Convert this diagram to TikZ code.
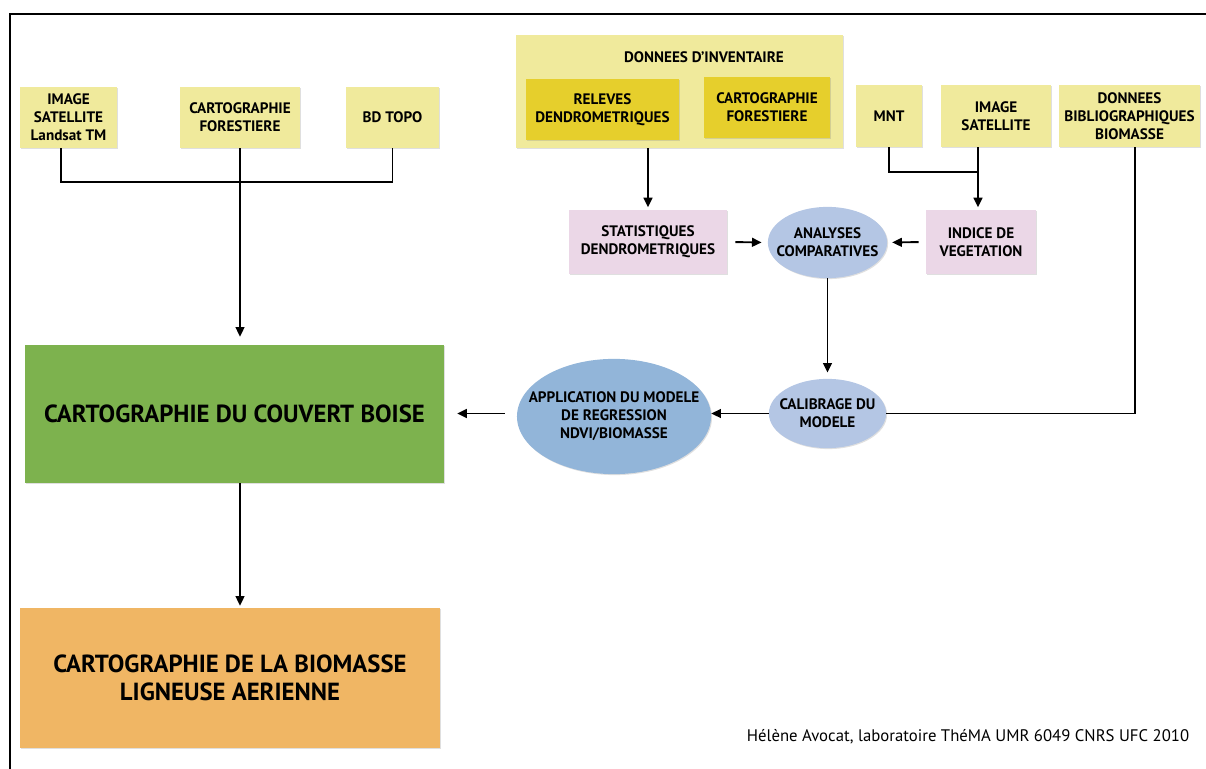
\documentclass[tikz,border=0pt]{standalone}
\usepackage{fontspec}
\setmainfont{PT Sans}
\usetikzlibrary{shapes.geometric,arrows.meta,shadows}
\definecolor{srcyellow}{HTML}{F0EA9C}
\definecolor{darkyellow}{HTML}{E6CF2C}
\definecolor{procpink}{HTML}{EBD7E7}
\definecolor{ovalblue}{HTML}{B4C6E4}
\definecolor{appliblue}{HTML}{92B5D9}
\definecolor{coverGreen}{HTML}{7DB24E}
\definecolor{massOrange}{HTML}{F0B664}
\begin{document}
\begin{tikzpicture}[x=0.025cm, y=-0.025cm,
    box/.style={rectangle, fill=srcyellow, align=center, inner sep=2pt, font=\fontsize{10.8}{12.8}\selectfont\bfseries,
        drop shadow={shadow xshift=0.7pt, shadow yshift=-0.7pt, opacity=0.25}},
    subbox/.style={box, fill=darkyellow, drop shadow={opacity=0}},
    procbox/.style={box, fill=procpink, minimum width=3.95cm, minimum height=1.6cm},
    oval/.style={ellipse, fill=ovalblue, inner sep=0pt, drop shadow={shadow xshift=0.7pt, shadow yshift=-0.7pt, opacity=0.25}},
    ovaltext/.style={align=center, font=\fontsize{10.8}{12.8}\selectfont\bfseries},
    bigbox/.style={rectangle, align=center, font=\fontsize{17.6}{19.5}\selectfont\bfseries,
        drop shadow={shadow xshift=0.7pt, shadow yshift=-0.7pt, opacity=0.25}},
    link/.style={line width=1.35pt},
    arr/.style={link, -{Triangle[length=2.4mm,width=2.2mm]}}
]
\useasboundingbox (0,0) rectangle (1206,769);
\draw[line width=1.4pt] (10,769) -- (10,14) -- (1206,14);

\node[box, minimum width=2.43cm, minimum height=1.53cm] (imgA) at (68.5,117.5) {IMAGE\\SATELLITE\\Landsat TM};
\node[box, minimum width=3.0cm, minimum height=1.53cm] (cartA) at (240,117.5) {CARTOGRAPHIE\\FORESTIERE};
\node[box, minimum width=2.33cm, minimum height=1.53cm] (bdtopo) at (392.5,117.5) {BD TOPO};

\node[bigbox, fill=coverGreen, minimum width=10.48cm, minimum height=3.45cm] (couvert) at (234.5,414) {CARTOGRAPHIE DU COUVERT BOISE};
\node[bigbox, fill=massOrange, minimum width=10.5cm, minimum height=3.5cm] (biomasse) at (230,678) {CARTOGRAPHIE DE LA BIOMASSE\\LIGNEUSE AERIENNE};

\node[box, minimum width=8.18cm, minimum height=2.83cm] (inventaire) at (679.5,91.5) {};
\node[font=\fontsize{10.8}{12.8}\selectfont\bfseries] (invtitle) at (704,57) {DONNEES D’INVENTAIRE};
\node[subbox, minimum width=3.83cm, minimum height=1.53cm] (releves) at (602.5,109.5) {RELEVES\\DENDROMETRIQUES};
\node[subbox, minimum width=3.15cm, minimum height=1.53cm] (cartB) at (767,107.5) {CARTOGRAPHIE\\FORESTIERE};

\node[box, minimum width=1.65cm, minimum height=1.55cm] (mnt) at (889,116) {MNT};
\node[box, minimum width=2.75cm, minimum height=1.55cm] (imgB) at (996,116) {IMAGE\\SATELLITE};
\node[box, minimum width=3.53cm, minimum height=1.55cm] (biblio) at (1129.5,116) {DONNEES\\BIBLIOGRAPHIQUES\\BIOMASSE};

\node[procbox] (stats) at (648,242) {STATISTIQUES\\DENDROMETRIQUES};
\node[procbox, minimum width=2.75cm] (indice) at (981,242) {INDICE DE\\VEGETATION};

\node[oval, minimum width=2.98cm, minimum height=1.78cm] (analyses) at (827.5,242.5) {};
\node[ovaltext] (analysesT) at (analyses) {ANALYSES\\COMPARATIVES};
\node[oval, minimum width=2.93cm, minimum height=1.73cm] (calib) at (827.5,413.5) {};
\node[ovaltext] (calibT) at (calib) {CALIBRAGE DU\\MODELE};
\node[oval, fill=appliblue, minimum width=4.85cm, minimum height=2.88cm] (appli) at (614,416.5) {};
\node[ovaltext] (appliT) at (appli) {APPLICATION DU MODELE\\DE REGRESSION\\NDVI/BIOMASSE};

\node[font=\fontsize{11.9}{14}\selectfont] (credit) at (968,737) {Hélène Avocat, laboratoire ThéMA UMR 6049 CNRS UFC 2010};

\coordinate (trunk) at (240,300);
\coordinate (satjoin) at (978,172);

\draw[link] ([xshift=-0.19cm]imgA.south) -- ++(0,33.5) -| (bdtopo.south);
\draw[arr, shorten >=0.2cm] (cartA.south -| trunk) -- (couvert.north -| trunk);
\draw[arr, shorten >=0.05cm] (couvert.south -| trunk) -- (biomasse.north -| trunk);

\draw[arr, shorten >=0.06cm] (stats.north |- inventaire.south) -- (stats.north);
\draw[link] (mnt.south) |- (satjoin);
\draw[arr, shorten >=0.06cm] (imgB.south -| satjoin) -- (indice.north -| satjoin);
\draw[arr, shorten <=0.2cm, shorten >=0.15cm] (stats.east) -- (analyses.west);
\draw[arr, shorten <=0.18cm, shorten >=0.12cm] (indice.west) -- (analyses.east);
\draw[arr, shorten >=0.15cm] (analyses.south) -- (calib.north);
\draw[link] ([xshift=0.14cm]biblio.south) |- (calib.east);
\draw[arr] (calib.west) -- (calib.west -| appli.east);
\draw[arr, shorten <=0.3cm, shorten >=0.32cm] (calib.west -| appli.west) -- (calib.west -| couvert.east);
\end{tikzpicture}
\end{document}
